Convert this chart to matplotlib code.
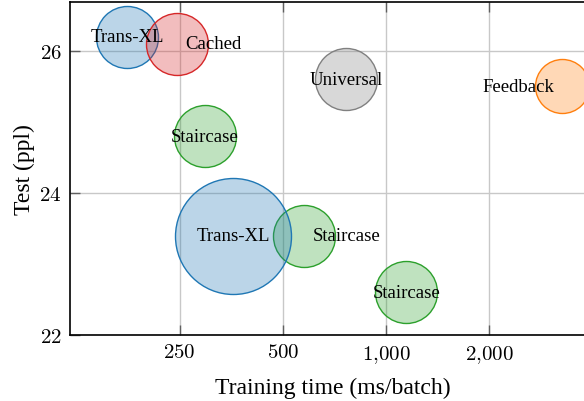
import numpy as np
import matplotlib
matplotlib.use("Agg")
from matplotlib import pyplot as plt
from matplotlib.ticker import FixedLocator, FixedFormatter

# bubble data
names = ["Trans-XL", "Cached", "Staircase", "Staircase", "Trans-XL", "Staircase", "Universal", "Feedback"]
time_ms = [176, 245, 296, 577, 358, 1148, 764, 3280]
test_ppl = [26.2, 26.1, 24.8, 23.4, 23.4, 22.6, 25.6, 25.5]
bubble_r = [31, 31, 31, 31, 58, 31, 31, 27]  # radius in px
colors = ["tab:blue", "tab:red", "tab:green", "tab:green", "tab:blue", "tab:green", "gray", "tab:orange"]
label_ha = ["center", "left", "center", "left", "center", "center", "center", "right"]

xticks = [250, 500, 1000, 2000]
xtick_labels = ["$250$", "$500$", "$1{,}000$", "$2{,}000$"]
yticks = [22, 24, 26]

plt.rcParams["font.family"] = "Liberation Serif"
plt.rcParams["mathtext.fontset"] = "cm"

W, H = 584, 402
fig = plt.figure(figsize=(W / 100, H / 100), dpi=100)
ax = fig.add_axes([70 / W, (H - 336) / H, 525 / W, 333 / H])

ax.set_xscale("log", base=2)
ax.set_xlim(119.6, 250 * 2 ** (415 / 103))
ax.set_ylim(22, 26.69)

ax.grid(True, color="#c8c8c8", linewidth=1, zorder=0)
ax.set_axisbelow(True)

for i in range(len(names)):
    d_pt = 2 * bubble_r[i] * 0.72
    ax.scatter(time_ms[i], test_ppl[i], s=d_pt ** 2, facecolor=matplotlib.colors.to_rgba(colors[i], 0.3),
               edgecolor=colors[i], linewidth=1, zorder=2 + i)
    off = {"center": 0, "left": 6, "right": -6}[label_ha[i]]
    ax.annotate(names[i], (time_ms[i], test_ppl[i]), xytext=(off, 0), textcoords="offset points",
                ha=label_ha[i], va="center", fontsize=13.5, zorder=20)

ax.xaxis.set_major_locator(FixedLocator(xticks))
ax.xaxis.set_major_formatter(FixedFormatter(xtick_labels))
ax.xaxis.set_minor_locator(FixedLocator([]))
ax.set_yticks(yticks)
ax.set_yticklabels(["$%d$" % v for v in yticks])

ax.tick_params(direction="in", length=7, width=1, color="#606060", labelsize=15, pad=6,
               top=True, right=True)
for s in ax.spines.values():
    s.set_linewidth(1.2)

ax.set_xlabel("Training time (ms/batch)", fontsize=17, labelpad=8)
ax.set_ylabel("Test (ppl)", fontsize=17, labelpad=3)

fig.savefig("out.png", dpi=100)
